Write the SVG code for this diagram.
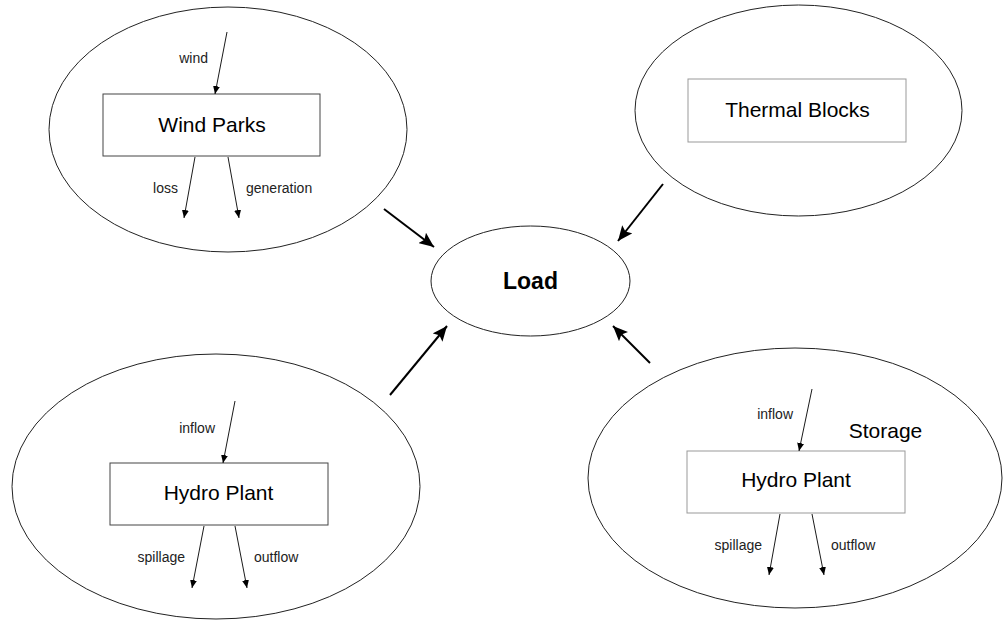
<svg xmlns="http://www.w3.org/2000/svg" width="1003" height="621" viewBox="0 0 1003 621">
  <style>
    .zone { fill: none; stroke: #222; stroke-width: 1; }
    .box { fill: #fff; stroke: #444; stroke-width: 1; }
    .box.light { stroke: #999; }
    .title { font-family: "Liberation Sans", Arial, sans-serif; font-size: 21px; fill: #000; text-anchor: middle; }
    .lbl { font-family: "Liberation Sans", Arial, sans-serif; font-size: 14px; fill: #222; }
    .end { text-anchor: end; }
    .flow { stroke: #000; stroke-width: 0.9; fill: none; marker-end: url(#small); }
    .feed { stroke: #000; stroke-width: 2; fill: none; marker-end: url(#big); }
  </style>
  <defs>
    <marker id="small" markerUnits="userSpaceOnUse" markerWidth="9" markerHeight="7" refX="8" refY="3.5" orient="auto">
      <path d="M0,0 L8,3.5 L0,7 z" fill="#000"/>
    </marker>
    <marker id="big" markerUnits="userSpaceOnUse" markerWidth="16" markerHeight="13" refX="15" refY="6.5" orient="auto">
      <path d="M0,0 L15,6.5 L0,13 L3,6.5 z" fill="#000"/>
    </marker>
  </defs>
  <rect width="1003" height="621" fill="#fff"/>

  <!-- Wind parks zone -->
  <g id="wind-parks">
    <ellipse class="zone" cx="228" cy="129.5" rx="179" ry="122.5"/>
    <rect class="box" x="103" y="94" width="217" height="62"/>
    <text class="title" x="212" y="132">Wind Parks</text>
    <text class="lbl end" x="208" y="63">wind</text>
    <text class="lbl end" x="178" y="193">loss</text>
    <text class="lbl" x="246" y="193">generation</text>
  </g>

  <!-- Thermal zone -->
  <g id="thermal-blocks">
    <ellipse class="zone" cx="798.5" cy="110.5" rx="163.5" ry="105.5"/>
    <rect class="box light" x="688" y="79" width="218" height="63"/>
    <text class="title" x="797.5" y="117">Thermal Blocks</text>
  </g>

  <!-- Central load -->
  <g id="load">
    <ellipse class="zone" cx="530.5" cy="281" rx="99.5" ry="55"/>
    <text class="title" x="530.5" y="289" style="font-weight:bold;font-size:23px">Load</text>
  </g>

  <!-- Run-of-river hydro zone -->
  <g id="hydro-plant">
    <ellipse class="zone" cx="216" cy="486.5" rx="204" ry="132.5"/>
    <rect class="box" x="110" y="463" width="218" height="62"/>
    <text class="title" x="218.5" y="500">Hydro Plant</text>
    <text class="lbl end" x="215" y="433">inflow</text>
    <text class="lbl end" x="185" y="562">spillage</text>
    <text class="lbl" x="254" y="562">outflow</text>
  </g>

  <!-- Storage hydro zone -->
  <g id="storage-hydro-plant">
    <ellipse class="zone" cx="795" cy="478" rx="207" ry="130"/>
    <rect class="box light" x="687" y="451" width="218" height="62"/>
    <text class="title" x="796" y="487">Hydro Plant</text>
    <text class="title" x="885.5" y="438">Storage</text>
    <text class="lbl end" x="793" y="419">inflow</text>
    <text class="lbl end" x="762" y="550">spillage</text>
    <text class="lbl" x="831" y="550">outflow</text>
  </g>

  <!-- Connectors -->
  <g id="connectors">
    <line class="flow" x1="227" y1="32" x2="215" y2="94"/>
    <line class="flow" x1="195" y1="157" x2="184" y2="218"/>
    <line class="flow" x1="228" y1="157" x2="239" y2="218"/>

    <line class="flow" x1="235" y1="401" x2="223" y2="463"/>
    <line class="flow" x1="204" y1="526" x2="192" y2="588"/>
    <line class="flow" x1="235" y1="526" x2="247" y2="588"/>

    <line class="flow" x1="812" y1="389" x2="799" y2="451"/>
    <line class="flow" x1="780" y1="514" x2="769" y2="575"/>
    <line class="flow" x1="812" y1="514" x2="824" y2="575"/>

    <line class="feed" x1="384" y1="209" x2="434" y2="247"/>
    <line class="feed" x1="663" y1="184" x2="618" y2="241"/>
    <line class="feed" x1="390" y1="395" x2="447" y2="326"/>
    <line class="feed" x1="650" y1="363" x2="613" y2="326"/>
  </g>
</svg>
